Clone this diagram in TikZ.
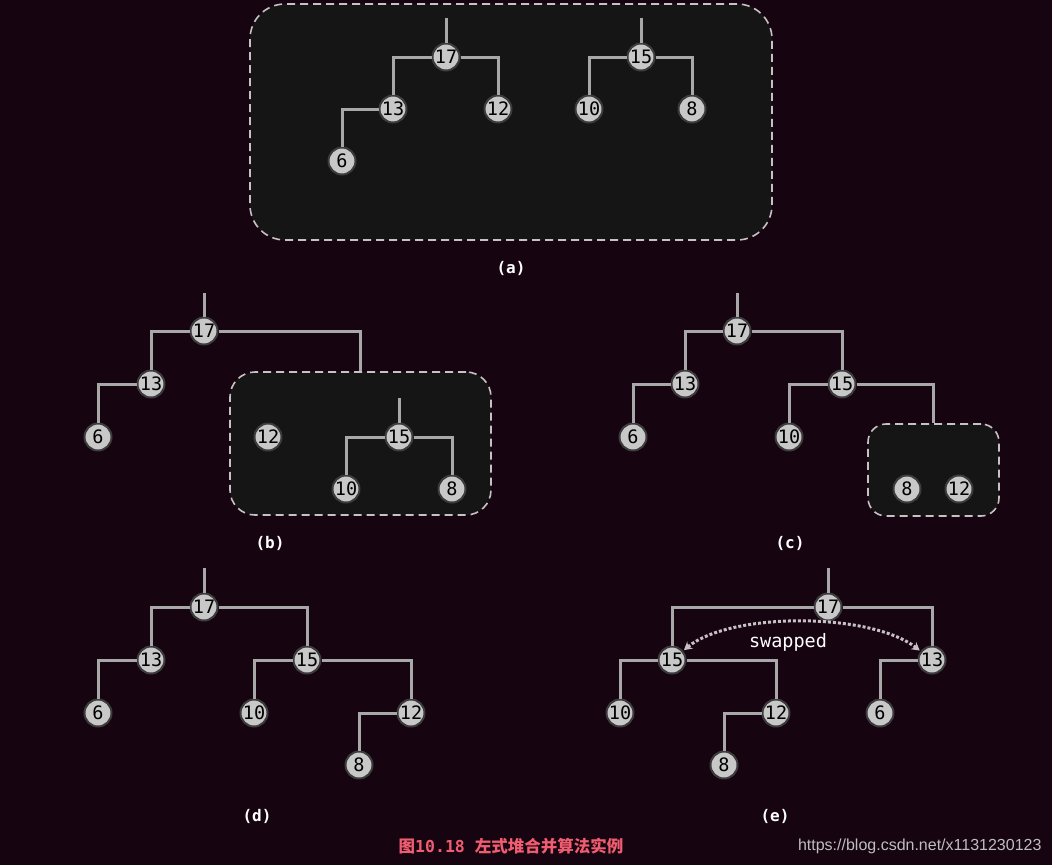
\documentclass[tikz,border=0pt]{standalone}
\usepackage{fontspec}
\setmonofont{DejaVu Sans Mono}
\newfontfamily\cjk{Noto Sans CJK SC}
\newfontfamily\wmfont{Liberation Sans}
\usetikzlibrary{arrows.meta}
\definecolor{bg}{RGB}{22,4,16}
\definecolor{boxfill}{RGB}{21,21,21}
\definecolor{boxline}{RGB}{200,192,196}
\definecolor{edgec}{RGB}{168,168,168}
\definecolor{nodefill}{RGB}{200,200,200}
\definecolor{nodeline}{RGB}{60,60,60}
\definecolor{capc}{RGB}{240,92,112}
\definecolor{wmc}{RGB}{190,190,190}
\tikzset{
  hn/.style={circle,fill=nodefill,draw=nodeline,line width=2pt,minimum size=27pt,inner sep=0pt,
    font=\ttfamily\fontsize{18.5}{18.5}\selectfont,text=black},
  edge/.style={draw=edgec,line width=3pt},
  dbox/.style={draw=boxline,fill=boxfill,dashed,dash pattern=on 8pt off 5pt,line width=1.6pt,inner sep=0pt},
  lab/.style={text=white,font=\ttfamily\bfseries\fontsize{16}{16}\selectfont},
  swaparrow/.style={draw=boxline,line width=3pt,dotted,{Stealth[length=8pt,width=9pt]}-{Stealth[length=8pt,width=9pt]}}
}
\begin{document}
\begin{tikzpicture}[x=1pt,y=-1pt]
\fill[bg] (0,0) rectangle (1052,865);
\useasboundingbox (0,0) rectangle (1052,865);
% ---------- (a)
\node[dbox,rounded corners=35pt,minimum width=522pt,minimum height=236pt] (abox) at (511,122) {};
\coordinate (a17t) at (446,18);
\node[hn] (a17) at (446,57) {17};
\node[hn] (a13) at (393,109) {13};
\node[hn] (a12) at (498,109) {12};
\node[hn] (a6) at (342,161) {6};
\coordinate (a15t) at (641,18);
\node[hn] (a15) at (641,57) {15};
\node[hn] (a10) at (589,109) {10};
\node[hn] (a8) at (692,109) {8};
\draw[edge] (a17t) -- (a17);
\draw[edge] (a17) -| (a13);
\draw[edge] (a17) -| (a12);
\draw[edge] (a13) -| (a6);
\draw[edge] (a15t) -- (a15);
\draw[edge] (a15) -| (a10);
\draw[edge] (a15) -| (a8);
\node[lab] (la) at (511,268) {(a)};
% ---------- (b)
\node[dbox,rounded corners=25pt,minimum width=261pt,minimum height=143pt] (bbox) at (360.5,443.5) {};
\coordinate (b17t) at (204,293);
\node[hn] (b17) at (204,331) {17};
\node[hn] (b13) at (151,384) {13};
\node[hn] (b6) at (98,437) {6};
\node[hn] (b12) at (268,437) {12};
\coordinate (b15t) at (399,398);
\node[hn] (b15) at (399,437) {15};
\node[hn] (b10) at (346,489) {10};
\node[hn] (b8) at (452,489) {8};
\draw[edge] (b17t) -- (b17);
\draw[edge] (b17) -| (b13);
\draw[edge] (b17) -| (bbox);
\draw[edge] (b13) -| (b6);
\draw[edge] (b15t) -- (b15);
\draw[edge] (b15) -| (b10);
\draw[edge] (b15) -| (b8);
\node[lab] (lb) at (270,543) {(b)};
% ---------- (c)
\node[dbox,rounded corners=18pt,minimum width=131pt,minimum height=92pt] (cbox) at (933.5,470) {};
\coordinate (c17t) at (737,293);
\node[hn] (c17) at (737,331) {17};
\node[hn] (c13) at (685,384) {13};
\node[hn] (c6) at (633,437) {6};
\node[hn] (c15) at (842,384) {15};
\node[hn] (c10) at (789,437) {10};
\node[hn] (c8) at (907,489) {8};
\node[hn] (c12) at (959,489) {12};
\draw[edge] (c17t) -- (c17);
\draw[edge] (c17) -| (c13);
\draw[edge] (c17) -| (c15);
\draw[edge] (c13) -| (c6);
\draw[edge] (c15) -| (c10);
\draw[edge] (c15) -| (cbox);
\node[lab] (lc) at (790,543) {(c)};
% ---------- (d)
\coordinate (d17t) at (204,568);
\node[hn] (d17) at (204,607) {17};
\node[hn] (d13) at (151,660) {13};
\node[hn] (d6) at (98,713) {6};
\node[hn] (d15) at (307,660) {15};
\node[hn] (d10) at (254,713) {10};
\node[hn] (d12) at (411,713) {12};
\node[hn] (d8) at (359,765) {8};
\draw[edge] (d17t) -- (d17);
\draw[edge] (d17) -| (d13);
\draw[edge] (d17) -| (d15);
\draw[edge] (d13) -| (d6);
\draw[edge] (d15) -| (d10);
\draw[edge] (d15) -| (d12);
\draw[edge] (d12) -| (d8);
\node[lab] (ld) at (257,816) {(d)};
% ---------- (e)
\coordinate (e17t) at (828,568);
\node[hn] (e17) at (828,607) {17};
\node[hn] (e15) at (672,660) {15};
\node[hn] (e13) at (932,660) {13};
\node[hn] (e10) at (620,713) {10};
\node[hn] (e12) at (776,713) {12};
\node[hn] (e8) at (724,765) {8};
\node[hn] (e6) at (880,713) {6};
\draw[edge] (e17t) -- (e17);
\draw[edge] (e17) -| (e15);
\draw[edge] (e17) -| (e13);
\draw[edge] (e15) -| (e10);
\draw[edge] (e15) -| (e12);
\draw[edge] (e12) -| (e8);
\draw[edge] (e13) -| (e6);
\draw[swaparrow,shorten <=1pt,shorten >=1pt] (e15) .. controls (730,612) and (870,612) .. (e13);
\node[text=white,font=\ttfamily\fontsize{18.5}{18.5}\selectfont] (sw) at (788,642) {swapped};
\node[lab] (le) at (775,816) {(e)};
% ---------- caption
\node[text=capc,font=\fontsize{16.5}{16.5}\selectfont] (cap) at (511,846) {{\cjk\bfseries 图}{\ttfamily\bfseries 10.18 }{\cjk\bfseries 左式堆合并算法实例}};
\node[text=wmc,font=\wmfont\fontsize{16}{16}\selectfont,anchor=east] (wm) at (1045,846) {https://blog.csdn.net/x1131230123};
\end{tikzpicture}
\end{document}
